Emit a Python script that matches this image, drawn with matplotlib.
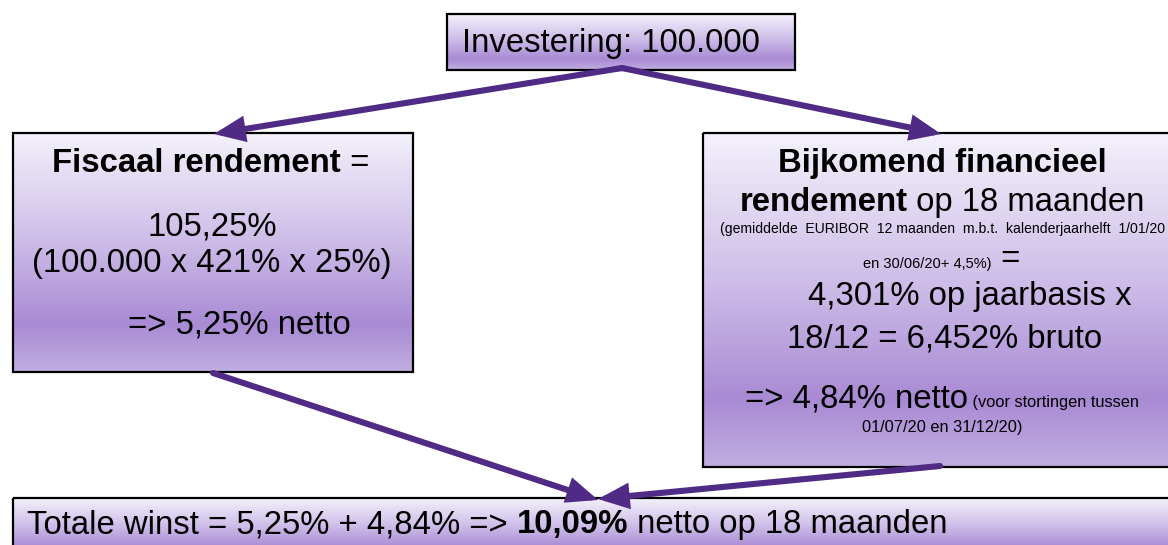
import matplotlib
matplotlib.use('Agg')
import matplotlib.pyplot as plt
import numpy as np
from matplotlib.patches import Rectangle
from matplotlib.colors import LinearSegmentedColormap

# ---- text content ----
top_label = "Investering: 100.000"
left_title = [("Fiscaal rendement", "bold"), (" =", "normal")]
left_lines = ["105,25%", "(100.000 x 421% x 25%)", "=> 5,25% netto"]
right_title1 = "Bijkomend financieel"
right_title2 = [("rendement", "bold"), (" op 18 maanden", "normal")]
right_note1 = "(gemiddelde  EURIBOR  12 maanden  m.b.t.  kalenderjaarhelft  1/01/20"
right_note2 = "en 30/06/20+ 4,5%)"
right_lines = ["4,301% op jaarbasis x", "18/12 = 6,452% bruto"]
right_net = "=> 4,84% netto"
right_net_note = ["(voor stortingen tussen", "01/07/20 en 31/12/20)"]
bottom_parts = [("Totale winst = 5,25% + 4,84% => ", "normal"), ("10,09%", "bold"),
                (" netto op 18 maanden", "normal")]

W, H = 1168, 545
fig = plt.figure(figsize=(W / 100, H / 100), dpi=100)
ax = fig.add_axes([0, 0, 1, 1])
ax.axis('off')
FONT = ['Liberation Sans', 'DejaVu Sans']
renderer = fig.canvas.get_renderer()

cmap = LinearSegmentedColormap.from_list(
    'g', [(0, '#f4f1fb'), (0.45, '#cdbde8'), (0.8, '#a98ad4'), (1, '#c0aee1')])
ARROW = '#4f2b86'
BIG = 23.7


def box(x0, y0, x1, y1):
    grad = np.linspace(0, 1, 256).reshape(-1, 1)
    ax.imshow(grad, cmap=cmap, extent=(x0, x1, y1, y0), aspect='auto',
              origin='upper', zorder=1, interpolation='bilinear')
    ax.add_patch(Rectangle((x0, y0), x1 - x0, y1 - y0, fill=False,
                           ec='black', lw=1.6, zorder=2))


def run(y, parts, x=None, cx=None):
    """parts: list of (text, size, weight). Baseline at y."""
    texts = []
    widths = []
    for txt, size, weight in parts:
        t = ax.text(0, y, txt, fontsize=size, fontweight=weight, family=FONT,
                    va='baseline', ha='left', zorder=5)
        texts.append(t)
        widths.append(t.get_window_extent(renderer).width)
    total = sum(widths)
    start = x if x is not None else cx - total / 2
    for t, w in zip(texts, widths):
        t.set_x(start)
        start += w


def arrow(p0, p1):
    ax.annotate('', xy=p1, xytext=p0,
                arrowprops=dict(arrowstyle='-|>,head_length=1.0,head_width=0.42',
                                lw=4.4, color=ARROW, shrinkA=0, shrinkB=0,
                                mutation_scale=15, joinstyle='miter'),
                zorder=4)


ax.set_xlim(0, W)
ax.set_ylim(H, 0)

# boxes
box(447, 14, 795, 70)
box(13, 133, 413, 372)
box(703, 133, 1180, 467)
box(13, 498, 1180, 560)

# arrows
arrow((622, 68), (214, 134))
arrow((622, 68), (941, 134))
arrow((213, 373), (598, 500))
arrow((940, 466), (598, 499))

# top
run(52, [(top_label, BIG, 'normal')], cx=611)

# left box
run(172, [(t, BIG, w) for t, w in left_title], cx=211)
run(235, [(left_lines[0], BIG, 'normal')], cx=212)
run(272, [(left_lines[1], BIG, 'normal')], cx=212)
run(333, [(left_lines[2], BIG, 'normal')], x=128)

# right box
run(172, [(right_title1, BIG, 'bold')], cx=942)
run(211, [(t, BIG, w) for t, w in right_title2], cx=942)
run(233, [(right_note1, 10.1, 'normal')], cx=942)
run(268, [(right_note2, 10.5, 'normal'), (" =", BIG, 'normal')], x=863)
run(305, [(right_lines[0], BIG, 'normal')], x=808)
run(347, [(right_lines[1], BIG, 'normal')], x=787)
run(407, [(right_net, BIG, 'normal'), (" " + right_net_note[0], 11.8, 'normal')], x=745)
run(432, [(right_net_note[1], 11.8, 'normal')], cx=942)

# bottom
run(533, [(t, BIG, w) for t, w in bottom_parts], x=27)

ax.set_xlim(0, W)
ax.set_ylim(H, 0)
fig.savefig('out.png', dpi=100)
